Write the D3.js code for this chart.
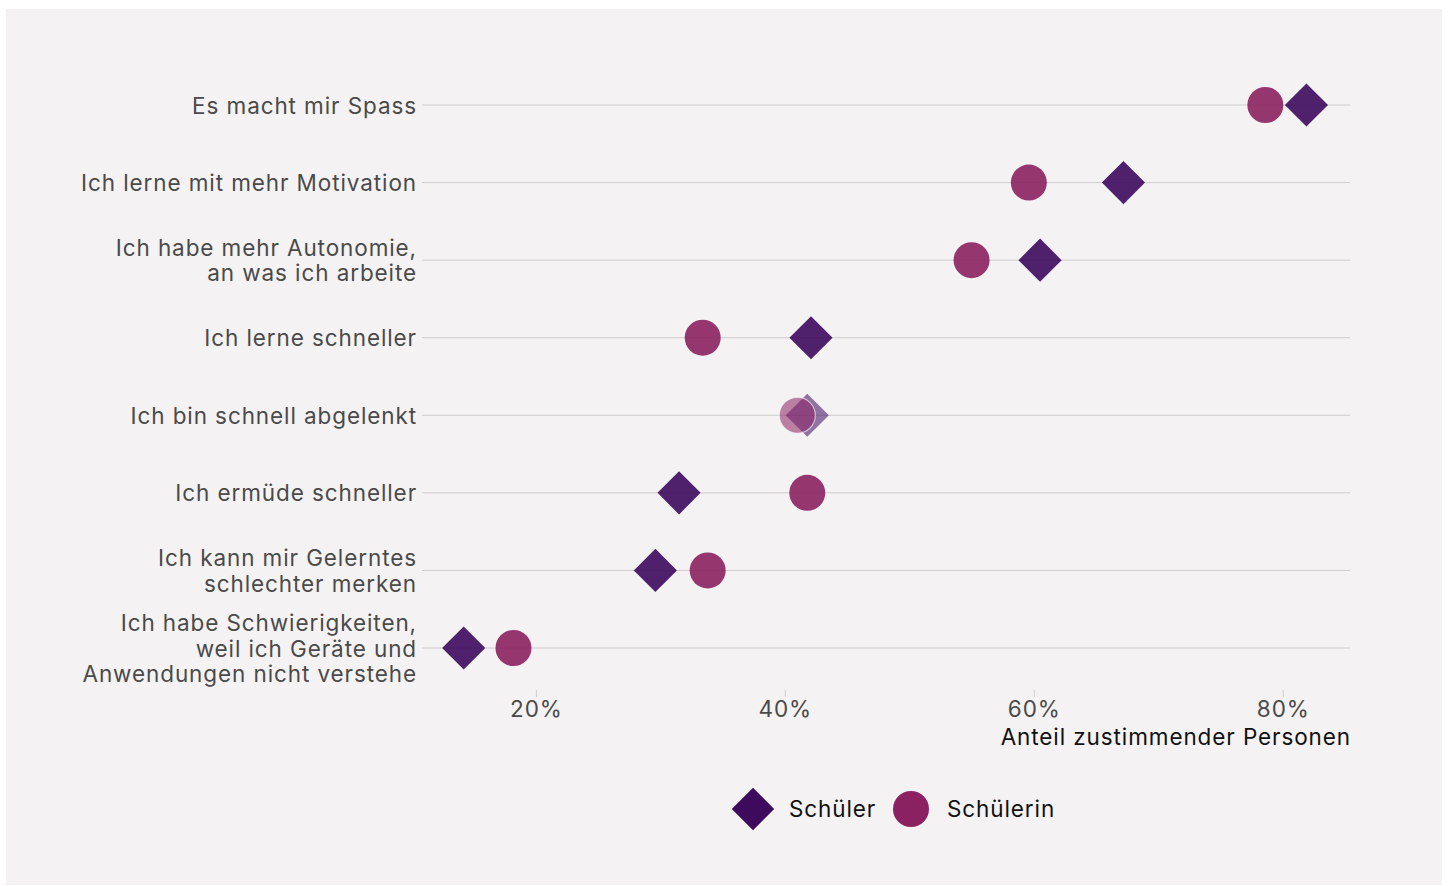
<!DOCTYPE html>
<html><head><meta charset="utf-8">
<script src="https://cdn.jsdelivr.net/npm/d3@7"></script>
<style>
html,body{margin:0;padding:0;background:#fff;}
svg{display:block;font-family:Inter, "Noto Sans", sans-serif;}
svg text{letter-spacing:0.9px;}
</style></head>
<body><svg id="c" width="1449" height="886"></svg>
<script>
const categories = [
  ["Es macht mir Spass"],
  ["Ich lerne mit mehr Motivation"],
  ["Ich habe mehr Autonomie,", "an was ich arbeite"],
  ["Ich lerne schneller"],
  ["Ich bin schnell abgelenkt"],
  ["Ich ermüde schneller"],
  ["Ich kann mir Gelerntes", "schlechter merken"],
  ["Ich habe Schwierigkeiten,", "weil ich Geräte und", "Anwendungen nicht verstehe"]
];
const schueler = [81.9, 67.2, 60.5, 42.1, 41.8, 31.5, 29.6, 14.2];
const schuelerin = [78.6, 59.6, 55.0, 33.4, 41.0, 41.8, 33.8, 18.2];
const tickValues = [20, 40, 60, 80];
const seriesNames = ["Schüler", "Schülerin"];
const overlapIndex = 4;

const svg = d3.select("#c");
svg.append("rect").attr("x",6).attr("y",9).attr("width",1436).attr("height",876).attr("fill","#f4f2f3");

const x = d3.scaleLinear().domain([10.85, 85.4]).range([422, 1350]);
const y = d3.scalePoint().domain(d3.range(categories.length)).range([105, 648]);

const colD = "#3d0a5e", colC = "#8b2160";
const FS = 22.5;

// gridlines
svg.append("g").selectAll("line").data(categories).join("line")
  .attr("x1", x.range()[0]).attr("x2", x.range()[1])
  .attr("y1", (d,i)=>y(i)).attr("y2",(d,i)=>y(i))
  .attr("stroke","#cfcccd").attr("stroke-width",1);

// category labels
const lab = svg.append("g").selectAll("text").data(categories).join("text")
  .attr("text-anchor","end").attr("x",417)
  .attr("font-size",FS).attr("fill","#4a4a4a");
lab.each(function(d,i){
  const t = d3.select(this);
  const n = d.length, lh = 25.5;
  d.forEach((line,k)=>{
    t.append("tspan").attr("x",417)
     .attr("y", y(i) + (k - (n-1)/2)*lh + 8.5)
     .text(line);
  });
});

// x axis
const xAxis = d3.axisBottom(x).tickValues(tickValues).tickFormat(d=>d+"%").tickSize(7).tickPadding(4);
const ax = svg.append("g").attr("transform","translate(0,690)").call(xAxis);
ax.select(".domain").remove();
ax.selectAll(".tick line").attr("stroke","#cfcccd");
ax.selectAll(".tick text").attr("font-size",FS).attr("fill","#4a4a4a").attr("font-family","Inter, 'Noto Sans', sans-serif");

svg.append("text").attr("x",1351).attr("y",745).attr("text-anchor","end")
  .attr("font-size",FS).attr("fill","#111").text("Anteil zustimmender Personen");

const ds = 30.5; // side length -> half diagonal ~21.5

// points
const pts = svg.append("g");
categories.forEach((c,i)=>{
  const op = i===overlapIndex ? 0.55 : 0.9;
  pts.append("rect")
    .attr("x",-ds/2).attr("y",-ds/2).attr("width",ds).attr("height",ds)
    .attr("transform",`translate(${x(schueler[i])},${y(i)}) rotate(45)`)
    .attr("fill",colD).attr("fill-opacity",op);
  pts.append("circle").attr("cx",x(schuelerin[i])).attr("cy",y(i)).attr("r",18)
    .attr("fill",colC).attr("fill-opacity",op)
    .attr("stroke", i===overlapIndex ? "#fff" : "none").attr("stroke-opacity",0.6).attr("stroke-width",1.2);
});

// legend
const lg = svg.append("g");
lg.append("rect").attr("x",-15).attr("y",-15).attr("width",30).attr("height",30)
  .attr("transform","translate(753,809) rotate(45)").attr("fill",colD);
lg.append("text").attr("x",789).attr("y",817).attr("font-size",FS).attr("fill","#111").text(seriesNames[0]);
lg.append("circle").attr("cx",911).attr("cy",809).attr("r",18).attr("fill",colC);
lg.append("text").attr("x",947).attr("y",817).attr("font-size",FS).attr("fill","#111").text(seriesNames[1]);
</script></body></html>
